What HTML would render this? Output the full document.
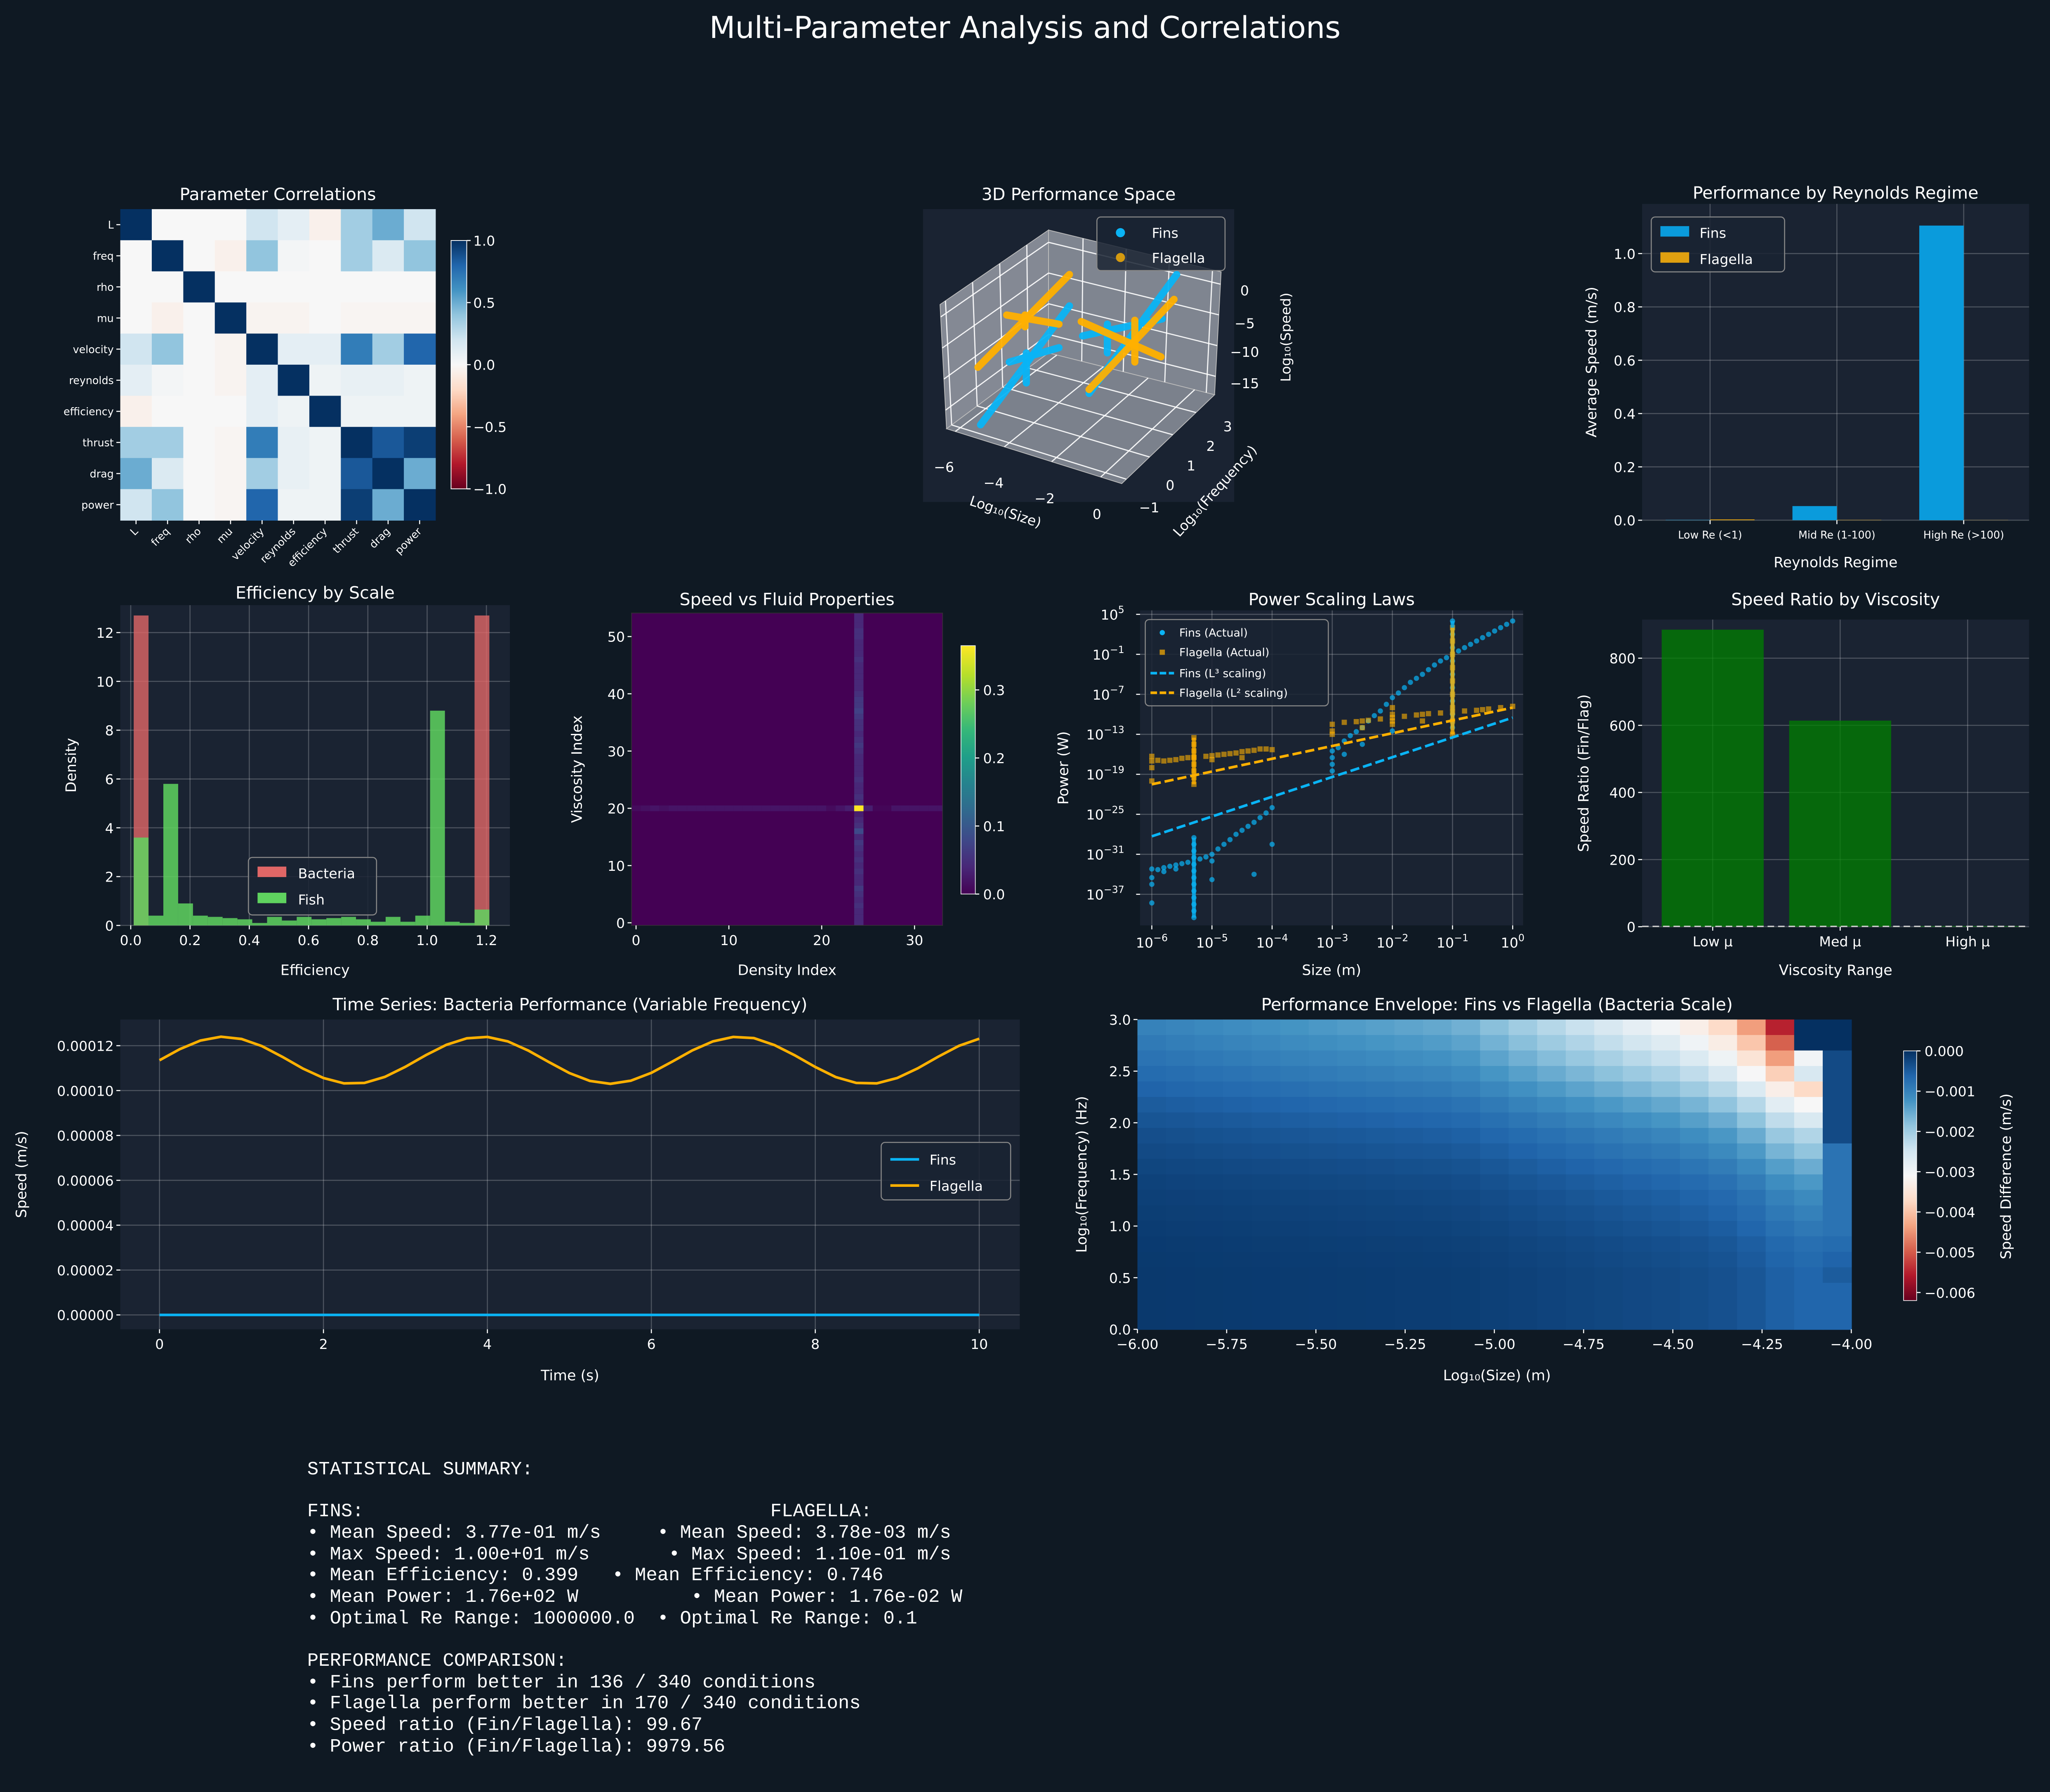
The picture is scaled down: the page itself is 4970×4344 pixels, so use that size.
<!DOCTYPE html>
<html><head><meta charset="utf-8"><style>
html,body{margin:0;padding:0;background:#0f1923;}
svg{display:block;}
text{font-family:"DejaVu Sans","Liberation Sans",sans-serif;fill:#ffffff;}
.mono{font-family:"Liberation Mono","DejaVu Sans Mono",monospace;white-space:pre;}
</style></head><body>
<svg id="fig" xmlns="http://www.w3.org/2000/svg" width="4970" height="4344" viewBox="0 0 1568 1371" preserveAspectRatio="none">
<defs>
<linearGradient id="rdbu" x1="0" y1="1" x2="0" y2="0">
<stop offset="0" stop-color="#67001f"/><stop offset="0.1" stop-color="#b2182b"/><stop offset="0.2" stop-color="#d6604d"/><stop offset="0.3" stop-color="#f4a582"/><stop offset="0.4" stop-color="#fddbc7"/><stop offset="0.5" stop-color="#f7f7f7"/><stop offset="0.6" stop-color="#d1e5f0"/><stop offset="0.7" stop-color="#92c5de"/><stop offset="0.8" stop-color="#4393c3"/><stop offset="0.9" stop-color="#2166ac"/><stop offset="1" stop-color="#053061"/>
</linearGradient>
<linearGradient id="viridis" x1="0" y1="1" x2="0" y2="0">
<stop offset="0" stop-color="#440154"/><stop offset="0.11" stop-color="#482878"/><stop offset="0.22" stop-color="#3e4989"/><stop offset="0.33" stop-color="#31688e"/><stop offset="0.44" stop-color="#26828e"/><stop offset="0.55" stop-color="#1f9e89"/><stop offset="0.66" stop-color="#35b779"/><stop offset="0.77" stop-color="#6ece58"/><stop offset="0.88" stop-color="#b5de2b"/><stop offset="1" stop-color="#fde725"/>
</linearGradient>
</defs>
<rect x="0" y="0" width="1568" height="1371" fill="#0f1923"/>
<text x="784" y="29" font-size="23" text-anchor="middle">Multi-Parameter Analysis and Correlations</text>
</svg>
<script>
// ---------- DATA ----------
const corrLabels = ["L","freq","rho","mu","velocity","reynolds","efficiency","thrust","drag","power"];
const corrRows = [
 [1,0,0,0,0.2,0.1,-0.05,0.35,0.5,0.2],
 [0,1,0,-0.05,0.4,0.02,0,0.35,0.15,0.4],
 [0,0,1,0,0,0,0,0,0,0],
 [0,-0.05,0,1,-0.03,-0.03,0,-0.02,-0.02,-0.02],
 [0.2,0.4,0,-0.03,1,0.1,0.1,0.7,0.35,0.8],
 [0.1,0.02,0,-0.03,0.1,1,0.05,0.08,0.08,0.05],
 [-0.05,0,0,0,0.1,0.05,1,0.05,0.05,0.05],
 [0.35,0.35,0,-0.02,0.7,0.08,0.05,1,0.85,0.95],
 [0.5,0.15,0,-0.02,0.35,0.08,0.05,0.85,1,0.5],
 [0.2,0.4,0,-0.02,0.8,0.05,0.05,0.95,0.5,1]];
const corrTicks = [1.0,0.5,0.0,-0.5,-1.0];

const reCategories = ["Low Re (<1)","Mid Re (1-100)","High Re (>100)"];
const reFins = [0.001,0.053,1.105];
const reFlag = [0.003,0.001,0.0005];
const reTicks = [0,0.2,0.4,0.6,0.8,1.0];

const histEdgesStart = 0.01, histBinWidth = 0.05;
const histBacteria = [12.7,0,0,0,0,0,0,0,0,0,0,0,0,0,0,0,0,0,0,0,0,0,0,12.7];
const histFish = [3.6,0.4,5.8,0.9,0.4,0.35,0.3,0.25,0.1,0.35,0.2,0.35,0.25,0.3,0.35,0.25,0.15,0.35,0.15,0.4,8.8,0.15,0.1,0.65];
const histXTicks = [0,0.2,0.4,0.6,0.8,1.0,1.2];
const histYTicks = [0,2,4,6,8,10,12];

const fluidRowIndex = 20, fluidColIndex = 24;
const fluidRowVals = [0.01,0.015,0.02,0.015,0.02,0.02,0.02,0.02,0.02,0.02,0.02,0.02,0.02,0.02,0.02,0.02,0.02,0.02,0.02,0.02,0.02,0.01,0.02,0.03,0.37,0.03,0.005,0.005,0.02,0.02,0.02,0.02,0.02,0.02,0.02];
const fluidColVals = [0.04,0.04,0.04,0.05,0.04,0.05,0.06,0.04,0.04,0.05,0.04,0.05,0.04,0.05,0.06,0.04,0.08,0.05,0.04,0.03,0.37,0.04,0.05,0.04,0.04,0.05,0.04,0.04,0.04,0.04,0.05,0.06,0.05,0.04,0.05,0.05,0.06,0.07,0.06,0.06,0.05,0.04,0.04,0.04,0.04,0.04,0.05,0.04,0.04,0.04,0.05,0.05,0.04,0.04,0.04];
const fluidXTicks = [0,10,20,30];
const fluidYTicks = [0,10,20,30,40,50];
const fluidCbTicks = [0.0,0.1,0.2,0.3];

const finsLogSize = [-6,-6,-6,-6,-5.8,-5.6,-5.4,-5.2,-5,-4.8,-4.6,-4.4,-4.2,-4,-5.8,-5.6,-5,-5,-4.3,-4,
 -5.9,-5.7,-5.5,-5.1,-4.9,-4.7,-4.5,-4.3,-4.1,
 -5.3,-5.3,-5.3,-5.3,-5.3,-5.3,-5.3,-5.3,-5.3,-5.3,-5.3,-5.3,-5.3,
 -3,-3,-3,-3,-2.8,-2.5,-2.2,-2,-1.8,-1.5,-1.2,-0.9,-0.6,-0.3,0,-2.8,-2.5,-2,
 -2.9,-2.7,-2.6,-2.4,-2.3,-2.1,-1.9,-1.7,-1.6,-1.4,-1.3,-1.1,-0.8,-0.7,-0.5,-0.4,-0.2,-0.1,
 -1,-1,-1,-1,-1,-1,-1,-1,-1];
const finsLogPower = [-33.2,-34.5,-35.5,-38.3,-33,-32.6,-32.2,-31.7,-31,-29.5,-28,-26.8,-25.5,-24,-33.6,-33.2,-32,-34.8,-34,-29.5,
 -33.3,-32.8,-32.4,-31.4,-30.2,-28.8,-27.4,-26.2,-24.8,
 -40.5,-39.5,-38.5,-37.5,-36.5,-35.5,-34.5,-33.5,-32.5,-31.5,-30.5,-29.5,-28.5,
 -15.5,-16.5,-17.5,-18.5,-14,-12,-9.5,-7.5,-6,-4,-2,-0.5,1,2.5,4,-16,-14.5,-12.5,
 -15,-13.2,-12.6,-11,-10.2,-8.5,-6.8,-5.2,-4.6,-3.3,-2.6,-1.5,0,0.5,1.5,2,3,3.5,
 -12,-10,-8,-6,-4,-2,0,2,4];
const flagLogSize = [-5.3,-5.3,-5.3,-5.3,-5.3,-5.3,-5.3,-5.3,-6,-6,-6,-6,
 -5.8,-5.6,-5.4,-5,-4.8,-4.6,-4.4,-4.2,-5,-4.5,-4,
 -5.9,-5.7,-5.5,-5.3,-5.1,-4.9,-4.7,-4.5,-4.3,-4.1,
 -3,-3,-3,-2.5,-2,-1.5,-1,-0.5,0,-2.5,-2,-1.5,-2,-2,-2,
 -2.8,-2.6,-2.4,-2.2,-1.8,-1.6,-1.4,-1.2,-0.8,-0.6,-0.4,-0.2,
 -1,-1,-1,-1,-1,-1,-1,-1,-1];
const flagLogPower = [-20.5,-19.5,-18.5,-17.5,-16.5,-15.5,-14.5,-13.5,-16.3,-17,-18,-20,
 -17,-16.8,-16.5,-16.2,-16,-15.8,-15.5,-15.2,-16.8,-16.5,-15.3,
 -16.9,-16.9,-16.6,-16.4,-16.3,-16.1,-15.9,-15.6,-15.4,-15.2,
 -11.5,-12.5,-13,-11,-10.5,-10,-9.7,-9.3,-8.8,-12,-11.5,-11,-9,-10,-11,
 -11.2,-11.1,-10.9,-10.7,-10.3,-10.1,-9.9,-9.8,-9.5,-9.4,-9.2,-9,
 -13,-11,-9,-7,-5,-3,-1,1,3];
const finsFitEnds = [[-6,-28.3],[0,-10.5]];
const flagFitEnds = [[-6,-20.5],[0,-9]];
const powerXTicks = [-6,-5,-4,-3,-2,-1,0];
const powerYTicks = [5,-1,-7,-13,-19,-25,-31,-37];

const viscCategories = ["Low μ","Med μ","High μ"];
const viscRatios = [885,614,2];
const viscTicks = [0,200,400,600,800];

const timeStep = 0.25;
const timeFlag = [1.135,1.185,1.223,1.240,1.230,1.198,1.150,1.098,1.056,1.032,1.034,1.061,1.106,1.158,1.204,1.233,1.239,1.219,1.178,1.127,1.078,1.043,1.030,1.044,1.079,1.128,1.179,1.219,1.239,1.234,1.203,1.157,1.105,1.060,1.034,1.032,1.056,1.099,1.151,1.199,1.231];
const timeFins = [0,0,0,0,0,0,0,0,0,0,0,0,0,0,0,0,0,0,0,0,0,0,0,0,0,0,0,0,0,0,0,0,0,0,0,0,0,0,0,0,0];
const timeXTicks = [0,2,4,6,8,10];
const timeYTicks = [0,0.00002,0.00004,0.00006,0.00008,0.0001,0.00012];

const envColProfile = [-1.0,-1.05,-1.1,-1.15,-1.2,-1.25,-1.3,-1.35,-1.4,-1.45,-1.5,-1.6,-1.8,-2.0,-2.2,-2.4,-2.6,-2.8,-3.0,-3.3,-3.7,-4.4,-5.5,-6.2,-6.2];
const envRowScale = [1.0,0.9,0.8,0.7,0.6,0.5,0.42,0.35,0.3,0.25,0.21,0.18,0.16,0.14,0.12,0.11,0.1,0.1,0.1,0.1];
const envOverrides = [[0,23,0],[0,24,0],[1,23,0],[1,24,0],[2,23,-3.0],[3,23,-2.6],[2,24,-0.3],[3,24,-0.3],[4,24,-0.3],[5,24,-0.3],[6,24,-0.3],[7,24,-0.3],[8,24,-0.8],[9,24,-0.8],[10,24,-0.8],[11,24,-0.8],[12,24,-0.8],[13,24,-0.8],[14,24,-0.7],[15,24,-0.6],[16,24,-0.5]];
const envXTicks = [-6,-5.75,-5.5,-5.25,-5,-4.75,-4.5,-4.25,-4];
const envYTicks = [0,0.5,1,1.5,2,2.5,3];
const envCbTicks = [0,-0.001,-0.002,-0.003,-0.004,-0.005,-0.006];

// ---------- HELPERS ----------
const NS = "http://www.w3.org/2000/svg";
const svg = document.getElementById('fig');
function mk(tag, a, name, parent){
  const e = document.createElementNS(NS, tag);
  for (const k in a) e.setAttribute(k, a[k]);
  
  
  (parent || svg).appendChild(e);
  return e;
}
function txt(x, y, s, size, name, anchor, extra){
  const a = {x:x, y:y, 'font-size':size, 'text-anchor':anchor||'middle'};
  if (extra) for (const k in extra) a[k] = extra[k];
  const t = mk('text', a, name);
  t.textContent = s;
  return t;
}
function axBox(x0,y0,x1,y1,name){
  return mk('rect',{x:x0,y:y0,width:x1-x0,height:y1-y0,fill:'#1a2332'},name);
}
function grid(x0,y0,x1,y1,name){
  return mk('line',{x1:x0,y1:y0,x2:x1,y2:y1,stroke:'#ffffff','stroke-opacity':0.22,'stroke-width':0.8},name);
}
function tickMark(x0,y0,x1,y1,name){
  return mk('line',{x1:x0,y1:y0,x2:x1,y2:y1,stroke:'#ffffff','stroke-width':0.8},name);
}
function lerpColor(stops, t){
  t = Math.max(0, Math.min(1, t));
  for (let i=0;i<stops.length-1;i++){
    if (t <= stops[i+1][0]){
      const f = (t - stops[i][0])/(stops[i+1][0]-stops[i][0]);
      const a = stops[i][1], b = stops[i+1][1];
      const c = [0,1,2].map(k => Math.round(parseInt(a.substr(1+2*k,2),16)*(1-f) + parseInt(b.substr(1+2*k,2),16)*f));
      return 'rgb('+c.join(',')+')';
    }
  }
  return stops[stops.length-1][1];
}
const RDBU = [[0,'#67001f'],[0.1,'#b2182b'],[0.2,'#d6604d'],[0.3,'#f4a582'],[0.4,'#fddbc7'],[0.5,'#f7f7f7'],[0.6,'#d1e5f0'],[0.7,'#92c5de'],[0.8,'#4393c3'],[0.9,'#2166ac'],[1,'#053061']];
const VIR = [[0,'#440154'],[0.11,'#482878'],[0.22,'#3e4989'],[0.33,'#31688e'],[0.44,'#26828e'],[0.55,'#1f9e89'],[0.66,'#35b779'],[0.77,'#6ece58'],[0.88,'#b5de2b'],[1,'#fde725']];
function legendBox(x0,y0,x1,y1,name){
  return mk('rect',{x:x0,y:y0,width:x1-x0,height:y1-y0,rx:3,fill:'#1a2332','fill-opacity':0.85,stroke:'#888888','stroke-width':0.8},name);
}
function superTick(x, y, exp, name, anchor){
  const t = mk('text',{x:x,y:y,'font-size':10.5,'text-anchor':anchor||'middle'},name);
  const a = document.createElementNS(NS,'tspan'); a.textContent = '10'; t.appendChild(a);
  const b = document.createElementNS(NS,'tspan'); b.setAttribute('dy','-5'); b.setAttribute('font-size','7.5'); b.textContent = String(exp).replace('-','−'); t.appendChild(b);
  return t;
}
function fmtMinus(s){ return String(s).replace('-','−'); }

// ---------- PANEL 1: CORRELATION HEATMAP ----------
(function(){
  const x0=92,y0=160,x1=333,y1=398, n=corrLabels.length;
  const cw=(x1-x0)/n, ch=(y1-y0)/n;
  txt((x0+x1)/2,153,'Parameter Correlations',13,'heatmap-title');
  corrRows.forEach((row,i)=>{
    row.forEach((v,j)=>{
      mk('rect',{x:x0+j*cw,y:y0+i*ch,width:cw+0.3,height:ch+0.3,fill:lerpColor(RDBU,(v+1)/2)},'corr-cell');
    });
  });
  corrLabels.forEach((l,i)=>{
    txt(x0-5,y0+(i+0.5)*ch+3,l,8,'heatmap-y-label','end');
    tickMark(x0-3,y0+(i+0.5)*ch,x0,y0+(i+0.5)*ch,'heatmap-y-tick');
    const cx=x0+(i+0.5)*cw;
    tickMark(cx,y1,cx,y1+3,'heatmap-x-tick');
    txt(cx+2,y1+9,l,8,'heatmap-x-label','end',{transform:'rotate(-45 '+(cx+2)+' '+(y1+9)+')'});
  });
  const cbx=345,cby0=184,cby1=374;
  mk('rect',{x:cbx,y:cby0,width:12,height:cby1-cby0,fill:'url(#rdbu)',stroke:'#ffffff','stroke-width':0.6},'heatmap-colorbar');
  corrTicks.forEach(v=>{
    const y=cby1-(v+1)/2*(cby1-cby0);
    tickMark(cbx+12,y,cbx+15,y,'colorbar-tick');
    txt(cbx+17,y+4,fmtMinus(v.toFixed(1)),10.5,'colorbar-tick-label','start');
  });
})();

// ---------- PANEL 2: 3D PERFORMANCE SPACE ----------
(function(){
  txt(825,153,'3D Performance Space',13,'3d-title');
  mk('rect',{x:706,y:160,width:238,height:224,fill:'#1a2332'},'3d-axes-background');
  const T=[802,176], L1=[719,233], L2=[724,328], B=[802,270], R1=[934,208], R2=[929,302], F=[858,370];
  const P=(a)=>a.map(p=>p.join(',')).join(' ');
  mk('polygon',{points:P([L1,T,B,L2]),fill:'#848994',stroke:'#bbbbbb','stroke-width':0.6},'3d-left-pane');
  mk('polygon',{points:P([T,R1,R2,B]),fill:'#7f8590',stroke:'#bbbbbb','stroke-width':0.6},'3d-right-pane');
  mk('polygon',{points:P([L2,B,R2,F]),fill:'#7b818c',stroke:'#bbbbbb','stroke-width':0.6},'3d-floor-pane');
  const L=(a,b,f)=>[a[0]+(b[0]-a[0])*f,a[1]+(b[1]-a[1])*f];
  const gl=(p,q)=>mk('line',{x1:p[0],y1:p[1],x2:q[0],y2:q[1],stroke:'#ffffff','stroke-width':0.9,'stroke-opacity':0.9},'3d-grid-line');
  [0.05,0.3,0.55,0.8].forEach(f=>{gl(L(L1,T,f),L(L2,B,f));});
  [0.1,0.35,0.6,0.85].forEach(f=>{gl(L(L1,L2,f),L(T,B,f));gl(L(T,B,f),L(R1,R2,f));});
  [0.2,0.45,0.7,0.95].forEach(f=>{gl(L(T,R1,f),L(B,R2,f));});
  [0.05,0.33,0.6,0.88].forEach(f=>{gl(L(L2,F,f),L(B,R2,f));});
  [0.2,0.45,0.7,0.95].forEach(f=>{gl(L(B,L2,f),L(R2,F,f));});
  const seg=(a,b,c,nm)=>mk('line',{x1:a[0],y1:a[1],x2:b[0],y2:b[1],stroke:c,'stroke-width':5.5,'stroke-linecap':'round','stroke-opacity':0.95},nm);
  const BL='#0ab4f5', OR='#ffb000';
  seg([750,325],[818,234],BL,'3d-fins-series');
  seg([772,277],[810,266],BL,'3d-fins-series');
  seg([785,270],[785,293],BL,'3d-fins-series');
  seg([833,301],[900,210],BL,'3d-fins-series');
  seg([828,257],[889,244],BL,'3d-fins-series');
  seg([847,248],[847,270],BL,'3d-fins-series');
  seg([748,281],[818,210],OR,'3d-flagella-series');
  seg([770,241],[810,248],OR,'3d-flagella-series');
  seg([784,241],[784,250],OR,'3d-flagella-series');
  seg([827,246],[888,273],OR,'3d-flagella-series');
  seg([833,298],[898,229],OR,'3d-flagella-series');
  seg([868,245],[868,277],OR,'3d-flagella-series');
  [['0',222],['−5',247],['−10',269],['−15',293]].forEach(d=>txt(952,d[1]+4,d[0],10.5,'3d-z-tick-label','middle'));
  txt(987,258,'Log₁₀(Speed)',10.5,'3d-z-axis-title','middle',{transform:'rotate(-90 987 258)'});
  [['−6',722,361],['−4',760,373],['−2',799,385],['0',839,397]].forEach(d=>txt(d[1],d[2],d[0],10.5,'3d-x-tick-label'));
  txt(768,395,'Log₁₀(Size)',10.5,'3d-x-axis-title','middle',{transform:'rotate(18 768 395)'});
  [['3',939,330],['2',926,345],['1',911,360],['0',895,375],['−1',879,392]].forEach(d=>txt(d[1],d[2],d[0],10.5,'3d-y-tick-label'));
  txt(932,378,'Log₁₀(Frequency)',10.5,'3d-y-axis-title','middle',{transform:'rotate(-48 932 378)'});
  legendBox(839,166,937,207,'3d-legend');
  mk('circle',{cx:857,cy:178,r:3.5,fill:BL},'3d-legend-fins-marker');
  txt(881,182,'Fins',10.5,'3d-legend-fins-label','start');
  mk('circle',{cx:857,cy:197,r:3.5,fill:'#d49a10'},'3d-legend-flagella-marker');
  txt(881,201,'Flagella',10.5,'3d-legend-flagella-label','start');
})();

// ---------- PANEL 3: REYNOLDS REGIME BARS ----------
(function(){
  const x0=1256,y0=156,x1=1552,y1=398;
  axBox(x0,y0,x1,y1,'reynolds-axes');
  txt((x0+x1)/2,152,'Performance by Reynolds Regime',13,'reynolds-title');
  const yv=v=>y1-v*204;
  const cx=i=>1308+i*97;
  reTicks.forEach(v=>{grid(x0,yv(v),x1,yv(v),'reynolds-grid-y');tickMark(x0-3,yv(v),x0,yv(v),'reynolds-y-tick');txt(x0-5,yv(v)+4,v.toFixed(1),10.5,'reynolds-y-tick-label','end');});
  reCategories.forEach((c,i)=>{grid(cx(i),y0,cx(i),y1,'reynolds-grid-x');tickMark(cx(i),y1,cx(i),y1+3,'reynolds-x-tick');txt(cx(i),y1+14,c,8,'reynolds-x-tick-label');});
  const bw=34;
  reFins.forEach((v,i)=>mk('rect',{x:cx(i)-bw,y:yv(v),width:bw,height:y1-yv(v),fill:'#0a9bdc'},'reynolds-fins-bar'));
  reFlag.forEach((v,i)=>mk('rect',{x:cx(i),y:yv(v),width:bw,height:y1-yv(v),fill:'#e0a010'},'reynolds-flagella-bar'));
  txt((x0+x1)/2,434,'Reynolds Regime',11,'reynolds-x-axis-title');
  txt(1221,(y0+y1)/2,'Average Speed (m/s)',11,'reynolds-y-axis-title','middle',{transform:'rotate(-90 1221 '+((y0+y1)/2)+')'});
  legendBox(1263,166,1365,208,'reynolds-legend');
  mk('rect',{x:1270,y:173,width:22,height:8,fill:'#0a9bdc'},'reynolds-legend-fins-swatch');
  txt(1300,182,'Fins',10.5,'reynolds-legend-fins-label','start');
  mk('rect',{x:1270,y:193,width:22,height:8,fill:'#e0a010'},'reynolds-legend-flagella-swatch');
  txt(1300,202,'Flagella',10.5,'reynolds-legend-flagella-label','start');
})();

// ---------- PANEL 4: EFFICIENCY HISTOGRAM ----------
(function(){
  const x0=92,y0=463,x1=390,y1=708;
  axBox(x0,y0,x1,y1,'efficiency-axes');
  txt((x0+x1)/2,458,'Efficiency by Scale',13,'efficiency-title');
  const xv=v=>100+v*226.7, yv=v=>y1-v*18.67;
  histXTicks.forEach(v=>{grid(xv(v),y0,xv(v),y1,'efficiency-grid-x');tickMark(xv(v),y1,xv(v),y1+3,'efficiency-x-tick');txt(xv(v),y1+15,v.toFixed(1),10.5,'efficiency-x-tick-label');});
  histYTicks.forEach(v=>{grid(x0,yv(v),x1,yv(v),'efficiency-grid-y');tickMark(x0-3,yv(v),x0,yv(v),'efficiency-y-tick');txt(x0-5,yv(v)+4,String(v),10.5,'efficiency-y-tick-label','end');});
  histBacteria.forEach((v,i)=>{ if(v>0) mk('rect',{x:xv(histEdgesStart+i*histBinWidth),y:yv(v),width:histBinWidth*226.7,height:y1-yv(v),fill:'#e06666','fill-opacity':0.8},'bacteria-hist-bar');});
  histFish.forEach((v,i)=>{ if(v>0) mk('rect',{x:xv(histEdgesStart+i*histBinWidth),y:yv(v),width:histBinWidth*226.7,height:y1-yv(v),fill:'#5fd35f','fill-opacity':0.85},'fish-hist-bar');});
  txt((x0+x1)/2,746,'Efficiency',11,'efficiency-x-axis-title');
  txt(58,(y0+y1)/2,'Density',11,'efficiency-y-axis-title','middle',{transform:'rotate(-90 58 '+((y0+y1)/2)+')'});
  legendBox(190,656,288,700,'efficiency-legend');
  mk('rect',{x:197,y:663,width:22,height:8,fill:'#e06666'},'legend-bacteria-swatch');
  txt(228,672,'Bacteria',10.5,'legend-bacteria-label','start');
  mk('rect',{x:197,y:683,width:22,height:8,fill:'#5fd35f'},'legend-fish-swatch');
  txt(228,692,'Fish',10.5,'legend-fish-label','start');
})();

// ---------- PANEL 5: SPEED VS FLUID ----------
(function(){
  const x0=483,y0=469,x1=721,y1=708;
  txt((x0+x1)/2,463,'Speed vs Fluid Properties',13,'fluid-title');
  const vmax=0.365;
  mk('rect',{x:x0,y:y0,width:x1-x0,height:y1-y0,fill:'#440154'},'fluid-heatmap-background');
  const xv=v=>486.5+v*7.1, yv=v=>706-v*4.38;
  fluidRowVals.forEach((v,i)=>{ const x=xv(i-0.5); if(x<x1) mk('rect',{x:x,y:yv(fluidRowIndex+0.5),width:Math.min(7.1,x1-x),height:4.38,fill:lerpColor(VIR,v/vmax)},'fluid-row-cell');});
  fluidColVals.forEach((v,j)=>{ const y=yv(j+0.5); if(y<y1 && y>=y0-4) mk('rect',{x:xv(fluidColIndex-0.5),y:Math.max(y,y0),width:7.1,height:4.38,fill:lerpColor(VIR,v/vmax)},'fluid-col-cell');});
  mk('rect',{x:x0,y:y0,width:x1-x0,height:y1-y0,fill:'none',stroke:'#333',"stroke-width":0.5},'fluid-frame');
  fluidXTicks.forEach(v=>{tickMark(xv(v),y1,xv(v),y1+3,'fluid-x-tick');txt(xv(v),y1+15,String(v),10.5,'fluid-x-tick-label');});
  fluidYTicks.forEach(v=>{tickMark(x0-3,yv(v),x0,yv(v),'fluid-y-tick');txt(x0-5,yv(v)+4,String(v),10.5,'fluid-y-tick-label','end');});
  txt((x0+x1)/2,746,'Density Index',11,'fluid-x-axis-title');
  txt(445,(y0+y1)/2,'Viscosity Index',11,'fluid-y-axis-title','middle',{transform:'rotate(-90 445 '+((y0+y1)/2)+')'});
  const cb0=494,cb1=684;
  mk('rect',{x:735,y:cb0,width:11,height:cb1-cb0,fill:'url(#viridis)',stroke:'#fff','stroke-width':0.5},'fluid-colorbar');
  fluidCbTicks.forEach(v=>{const y=cb1-v/vmax*(cb1-cb0);tickMark(746,y,749,y,'fluid-colorbar-tick');txt(752,y+4,v.toFixed(1),10.5,'fluid-colorbar-tick-label','start');});
})();

// ---------- PANEL 6: POWER SCALING ----------
(function(){
  const x0=872,y0=467,x1=1165,y1=708;
  axBox(x0,y0,x1,y1,'power-axes');
  txt((x0+x1)/2,463,'Power Scaling Laws',13,'power-title');
  const xv=l=>881+(l+6)*46, yv=p=>470+(5-p)*5.1;
  powerXTicks.forEach(v=>{grid(xv(v),y0,xv(v),y1,'power-grid-x');tickMark(xv(v),y1,xv(v),y1+3,'power-x-tick');superTick(xv(v),y1+17,v,'power-x-tick-label');});
  powerYTicks.forEach(v=>{grid(x0,yv(v),x1,yv(v),'power-grid-y');tickMark(x0-3,yv(v),x0,yv(v),'power-y-tick');superTick(x0-12,yv(v)+4,v,'power-y-tick-label','end');});
  finsLogSize.forEach((l,i)=>mk('circle',{cx:xv(l),cy:yv(finsLogPower[i]),r:2,fill:'#0ab4f5','fill-opacity':0.7},'fins-actual-point'));
  flagLogSize.forEach((l,i)=>mk('rect',{x:xv(l)-2,y:yv(flagLogPower[i])-2,width:4,height:4,fill:'#ffb000','fill-opacity':0.6},'flagella-actual-point'));
  [[-5.3,-40.5,-28.5,'#0ab4f5','fins-streak'],[-1,-12,4,'#0ab4f5','fins-streak'],[-5.3,-20.5,-13.5,'#ffb000','flagella-streak'],[-1,-13,3,'#ffb000','flagella-streak']].forEach(s=>mk('line',{x1:xv(s[0]),y1:yv(s[1]),x2:xv(s[0]),y2:yv(s[2]),stroke:s[3],'stroke-width':3,'stroke-opacity':0.8},s[4]));
  mk('line',{x1:xv(finsFitEnds[0][0]),y1:yv(finsFitEnds[0][1]),x2:xv(finsFitEnds[1][0]),y2:yv(finsFitEnds[1][1]),stroke:'#0ab4f5','stroke-width':2,'stroke-dasharray':'7,3'},'fins-scaling-line');
  mk('line',{x1:xv(flagFitEnds[0][0]),y1:yv(flagFitEnds[0][1]),x2:xv(flagFitEnds[1][0]),y2:yv(flagFitEnds[1][1]),stroke:'#ffb000','stroke-width':2,'stroke-dasharray':'7,3'},'flagella-scaling-line');
  legendBox(876,474,1016,540,'power-legend');
  mk('circle',{cx:889,cy:484,r:2,fill:'#0ab4f5'},'power-legend-fins-marker');
  txt(902,487,'Fins (Actual)',8.5,'power-legend-fins-label','start');
  mk('rect',{x:887,y:497,width:4,height:4,fill:'#ffb000','fill-opacity':0.7},'power-legend-flagella-marker');
  txt(902,502,'Flagella (Actual)',8.5,'power-legend-flagella-label','start');
  mk('line',{x1:880,y1:515,x2:898,y2:515,stroke:'#0ab4f5','stroke-width':2,'stroke-dasharray':'5,2'},'power-legend-fins-line');
  txt(902,518,'Fins (L³ scaling)',8.5,'power-legend-fins-fit-label','start');
  mk('line',{x1:880,y1:530,x2:898,y2:530,stroke:'#ffb000','stroke-width':2,'stroke-dasharray':'5,2'},'power-legend-flagella-line');
  txt(902,533,'Flagella (L² scaling)',8.5,'power-legend-flagella-fit-label','start');
  txt((x0+x1)/2,746,'Size (m)',11,'power-x-axis-title');
  txt(817,(y0+y1)/2,'Power (W)',11,'power-y-axis-title','middle',{transform:'rotate(-90 817 '+((y0+y1)/2)+')'});
})();

// ---------- PANEL 7: SPEED RATIO ----------
(function(){
  const x0=1256,y0=474,x1=1552,y1=709;
  axBox(x0,y0,x1,y1,'viscosity-axes');
  txt((x0+x1)/2,463,'Speed Ratio by Viscosity',13,'viscosity-title');
  const yv=v=>y1-v*0.2568, cx=i=>1310+i*97.5;
  viscTicks.forEach(v=>{grid(x0,yv(v),x1,yv(v),'viscosity-grid-y');tickMark(x0-3,yv(v),x0,yv(v),'viscosity-y-tick');txt(x0-5,yv(v)+4,String(v),10.5,'viscosity-y-tick-label','end');});
  viscCategories.forEach((c,i)=>{grid(cx(i),y0,cx(i),y1,'viscosity-grid-x');tickMark(cx(i),y1,cx(i),y1+3,'viscosity-x-tick');txt(cx(i),y1+15,c,10.5,'viscosity-x-tick-label');});
  viscRatios.forEach((v,i)=>mk('rect',{x:cx(i)-39,y:yv(v),width:78,height:y1-yv(v),fill:'#008000','fill-opacity':0.75},'speed-ratio-bar'));
  mk('line',{x1:x0,y1:yv(1),x2:x1,y2:yv(1),stroke:'#cccccc','stroke-width':1,'stroke-dasharray':'5,3'},'equal-ratio-line');
  txt((x0+x1)/2,746,'Viscosity Range',11,'viscosity-x-axis-title');
  txt(1215,(y0+y1)/2,'Speed Ratio (Fin/Flag)',11,'viscosity-y-axis-title','middle',{transform:'rotate(-90 1215 '+((y0+y1)/2)+')'});
})();

// ---------- PANEL 8: TIME SERIES ----------
(function(){
  const x0=92,y0=780,x1=780,y1=1017;
  axBox(x0,y0,x1,y1,'time-axes');
  txt((x0+x1)/2,773,'Time Series: Bacteria Performance (Variable Frequency)',13,'time-title');
  const xv=t=>122+t*62.7, yv=v=>1006-v/0.00002*34.33;
  timeXTicks.forEach(v=>{grid(xv(v),y0,xv(v),y1,'time-grid-x');tickMark(xv(v),y1,xv(v),y1+3,'time-x-tick');txt(xv(v),y1+15,String(v),10.5,'time-x-tick-label');});
  timeYTicks.forEach(v=>{grid(x0,yv(v),x1,yv(v),'time-grid-y');tickMark(x0-3,yv(v),x0,yv(v),'time-y-tick');txt(x0-5,yv(v)+4,v.toFixed(5),10.5,'time-y-tick-label','end');});
  const pf=timeFins.map((v,i)=>xv(i*timeStep)+','+yv(v)).join(' ');
  mk('polyline',{points:pf,fill:'none',stroke:'#0ab4f5','stroke-width':2},'fins-speed-line');
  const pg=timeFlag.map((v,i)=>xv(i*timeStep)+','+yv(v*1e-4)).join(' ');
  mk('polyline',{points:pg,fill:'none',stroke:'#ffb000','stroke-width':2,'stroke-linejoin':'round'},'flagella-speed-line');
  legendBox(674,874,773,918,'time-legend');
  mk('line',{x1:681,y1:887,x2:703,y2:887,stroke:'#0ab4f5','stroke-width':2},'time-legend-fins-line');
  txt(711,891,'Fins',10.5,'time-legend-fins-label','start');
  mk('line',{x1:681,y1:907,x2:703,y2:907,stroke:'#ffb000','stroke-width':2},'time-legend-flagella-line');
  txt(711,911,'Flagella',10.5,'time-legend-flagella-label','start');
  txt((x0+x1)/2,1056,'Time (s)',11,'time-x-axis-title');
  txt(20,(y0+y1)/2,'Speed (m/s)',11,'time-y-axis-title','middle',{transform:'rotate(-90 20 '+((y0+y1)/2)+')'});
})();

// ---------- PANEL 9: PERFORMANCE ENVELOPE ----------
(function(){
  const x0=870,y0=780,x1=1416,y1=1017;
  txt(1145,773,'Performance Envelope: Fins vs Flagella (Bacteria Scale)',13,'envelope-title');
  const nc=envColProfile.length, nr=envRowScale.length;
  const cw=(x1-x0)/nc, ch=(y1-y0)/nr;
  const vals=envRowScale.map(s=>envColProfile.map(c=>c*s));
  envOverrides.forEach(o=>{vals[o[0]][o[1]]=o[2];});
  vals.forEach((row,r)=>row.forEach((v,c)=>{
    mk('rect',{x:x0+c*cw,y:y0+r*ch,width:cw+0.4,height:ch+0.4,fill:lerpColor(RDBU,1-(-v)/6.2)},'envelope-cell');
  }));
  const xv=v=>x0+(v+6)*273, yv=v=>y1-v*79;
  envXTicks.forEach(v=>{tickMark(xv(v),y1,xv(v),y1+3,'envelope-x-tick');txt(xv(v),y1+15,fmtMinus(v.toFixed(2)),10.5,'envelope-x-tick-label');});
  envYTicks.forEach(v=>{tickMark(x0-3,yv(v),x0,yv(v),'envelope-y-tick');txt(x0-5,yv(v)+4,v.toFixed(1),10.5,'envelope-y-tick-label','end');});
  txt(1145,1056,'Log₁₀(Size) (m)',11,'envelope-x-axis-title');
  txt(831,(y0+y1)/2,'Log₁₀(Frequency) (Hz)',11,'envelope-y-axis-title','middle',{transform:'rotate(-90 831 '+((y0+y1)/2)+')'});
  const cb0=804,cb1=995;
  mk('rect',{x:1456,y:cb0,width:10,height:cb1-cb0,fill:'url(#rdbu)',stroke:'#fff','stroke-width':0.5},'envelope-colorbar');
  envCbTicks.forEach(v=>{const y=cb0+(-v)/0.0062*(cb1-cb0);tickMark(1466,y,1469,y,'envelope-colorbar-tick');txt(1472,y+4,fmtMinus(v.toFixed(3)),10.5,'envelope-colorbar-tick-label','start');});
  txt(1538,900,'Speed Difference (m/s)',11,'envelope-colorbar-title','middle',{transform:'rotate(-90 1538 900)'});
})();

// ---------- STATS TEXT ----------
(function(){
  const lines=[
    [1128,'STATISTICAL SUMMARY:'],
    [1160,'FINS:                                    FLAGELLA:'],
    [1176.5,'• Mean Speed: 3.77e-01 m/s     • Mean Speed: 3.78e-03 m/s'],
    [1193,'• Max Speed: 1.00e+01 m/s       • Max Speed: 1.10e-01 m/s'],
    [1209,'• Mean Efficiency: 0.399   • Mean Efficiency: 0.746'],
    [1225.5,'• Mean Power: 1.76e+02 W          • Mean Power: 1.76e-02 W'],
    [1242,'• Optimal Re Range: 1000000.0  • Optimal Re Range: 0.1'],
    [1274.5,'PERFORMANCE COMPARISON:'],
    [1291,'• Fins perform better in 136 / 340 conditions'],
    [1307,'• Flagella perform better in 170 / 340 conditions'],
    [1323.5,'• Speed ratio (Fin/Flagella): 99.67'],
    [1340,'• Power ratio (Fin/Flagella): 9979.56']];
  lines.forEach(l=>{
    txt(235,l[0],l[1],14.4,'stats-line','start',{class:'mono','xml:space':'preserve'});
  });
})();
</script>
</body></html>
